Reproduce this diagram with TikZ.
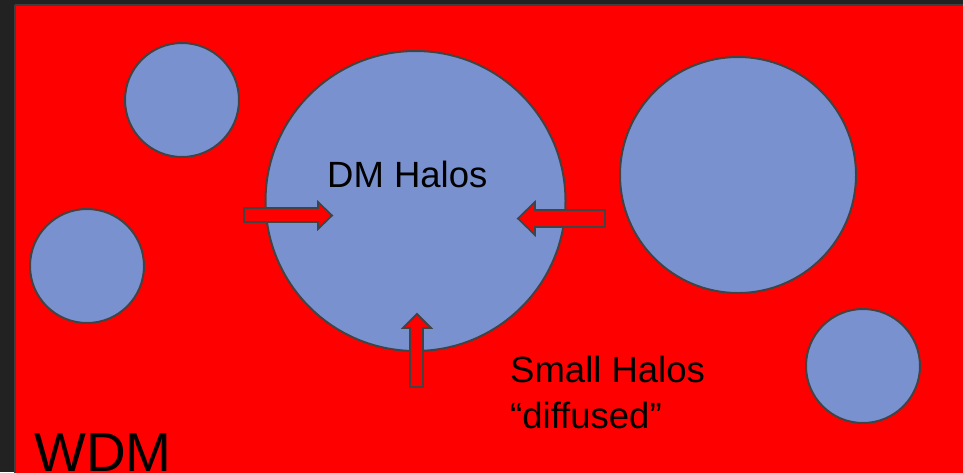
\documentclass[tikz,border=0pt]{standalone}
\usepackage{fontspec}
\setmainfont{Liberation Sans}
\definecolor{frame}{HTML}{222222}
\definecolor{rim}{HTML}{3E3E3E}
\definecolor{halo}{HTML}{7A91CF}
\definecolor{edge}{HTML}{434343}
\definecolor{wdm}{HTML}{FF0000}
\tikzset{
  halo/.style={circle, fill=halo, draw=edge, line width=2pt, inner sep=0pt, minimum size=#1},
  flow/.style={fill=wdm, draw=edge, line width=1.8pt, line join=miter},
  label/.style={anchor=base west, inner sep=0pt, text=black},
  mid/.style={font=\fontsize{36.5}{44}\selectfont},
}
\begin{document}
\begin{tikzpicture}[x=1pt, y=-1pt]
  % canvas
  \fill[frame] (0,0) rectangle (963,472);
  \useasboundingbox (0,0) rectangle (963,472);
  \fill[wdm] (15,5) rectangle (975,485);
  \draw[rim, line width=2pt] (15,5) -- (975,5);
  \draw[rim, line width=2pt] (15,5) -- (15,485);

  % halos
  \node[halo=114pt] (h1) at (182,100) {};
  \node[halo=114pt] (h2) at (87,266) {};
  \node[halo=300pt] (main) at (415.5,201) {};
  \node[halo=236pt] (h3) at (738,175) {};
  \node[halo=114pt] (h4) at (863,366) {};

  % inflow arrows
  \draw[flow] (244,208) -- (318,208) -- (318,202) -- (332,215.5) -- (318,229) -- (318,222) -- (244,222) -- cycle;
  \draw[flow] (605,210) -- (535,210) -- (535,202) -- (518,218.5) -- (535,235) -- (535,227) -- (605,227) -- cycle;
  \draw[flow] (410,387) -- (410,328) -- (403,328) -- (417,314) -- (431,328) -- (423,328) -- (423,387) -- cycle;

  % labels
  \node[label, mid] (dm) at (327,187) {DM Halos};
  \node[label, mid] (small) at (510,382) {Small Halos};
  \node[label, mid] (diff) at (510,428) {“diffused”};
  \node[label, font=\fontsize{55}{62}\selectfont] (w) at (34,471) {WDM};
\end{tikzpicture}
\end{document}
